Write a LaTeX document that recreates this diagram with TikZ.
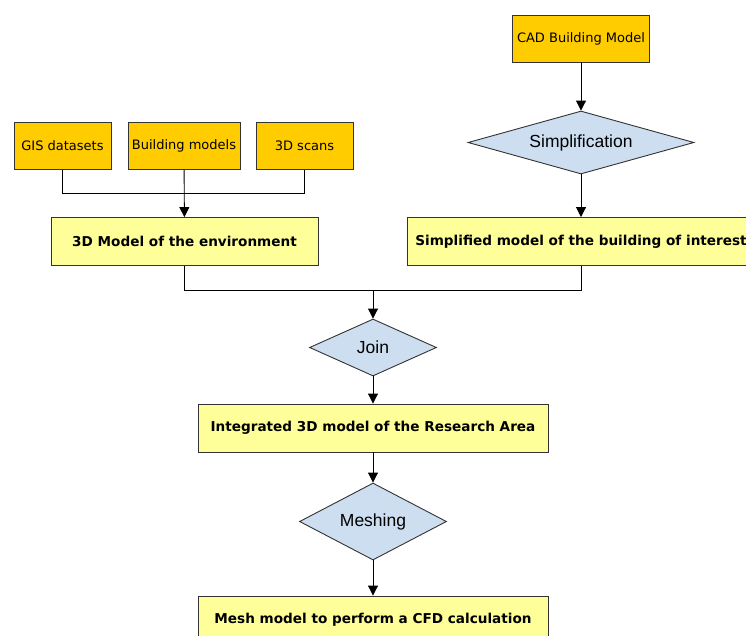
\documentclass[tikz,border=0pt]{standalone}
\usepackage{fontspec}
\setmainfont{DejaVu Sans}
\newfontfamily\diafont{Liberation Sans}
\usetikzlibrary{arrows.meta,positioning,shapes.geometric}
\definecolor{srcbox}{RGB}{255,204,0}
\definecolor{modelbox}{RGB}{255,255,153}
\definecolor{stepfill}{RGB}{204,222,239}

\begin{document}
\begin{tikzpicture}[x=1pt, y=-1pt,
					every node/.style={draw=black!80, line width=0.9pt, inner sep=0pt},
					source/.style={fill=srcbox, minimum height=47pt, font=\fontsize{13}{15}\selectfont},
					model/.style={fill=modelbox, minimum height=48pt, font=\bfseries\fontsize{13.6}{15}\selectfont},
					process/.style={diamond, fill=stepfill, font=\diafont\fontsize{17.5}{19}\selectfont},
					arrow/.style={-{Triangle[length=10pt,width=10pt]}, line width=0.9pt}]
	\useasboundingbox (0,0) rectangle (746,635);
	% inputs
	\node[source, minimum width=97pt] (gis) at (62.5,146) {GIS datasets};
	\node[source, minimum width=112pt] (bmodels) at (184,146) {Building models};
	\node[source, minimum width=97pt] (scans) at (304.5,146) {3D scans};
	\node[source, minimum width=137pt] (cad) at (581,38.5) {CAD Building Model};
	% processing steps and models
	\node[process, minimum width=226pt, minimum height=63pt, aspect=3.6] (simp) at (581,142.5) {Simplification};
	\node[model, minimum width=267pt] (env) at (184.5,241.5) {3D Model of the environment};
	\node[model, minimum width=348pt] (simpl) at (581,241.5) {Simplified model of the building of interest};
	\node[process, minimum width=127pt, minimum height=57pt, aspect=2.2] (join) at (373,347.5) {Join};
	\node[model, minimum width=350pt] (integ) at (373,428) {Integrated 3D model of the Research Area};
	\node[process, minimum width=147pt, minimum height=77pt, aspect=1.9] (mesh) at (373,521.5) {Meshing};
	\node[model, minimum width=350pt] (cfd) at (373,620) {Mesh model to perform a CFD calculation};
	\coordinate (merge) at (373,290);

	% connectors
	\draw[line width=0.9pt] (gis.south) -- ++(0,23) -| (scans.south);
	\draw[arrow] (bmodels) -- (env);
	\draw[arrow] (cad) -- (simp);
	\draw[arrow] (simp) -- (simpl);
	\draw[line width=0.9pt] (env.south) -- (env.south |- merge) -| (simpl.south);
	\draw[arrow] (merge) -- (join);
	\draw[arrow] (join) -- (integ);
	\draw[arrow] (integ) -- (mesh);
	\draw[arrow] (mesh) -- (cfd);
\end{tikzpicture}
\end{document}
